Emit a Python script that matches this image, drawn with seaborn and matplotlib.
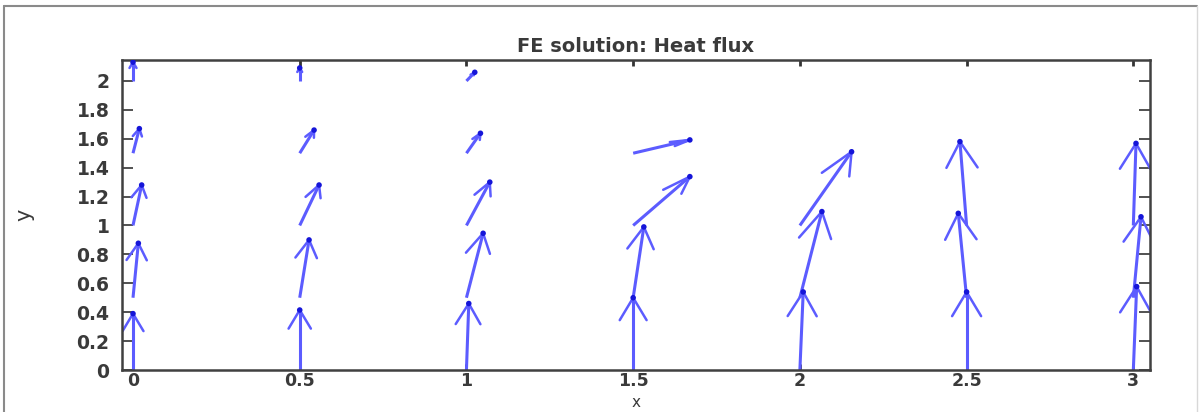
import numpy as np
import pandas as pd
import matplotlib
matplotlib.use("Agg")
import matplotlib.pyplot as plt
import seaborn as sns
from matplotlib.lines import Line2D

# grid points (x columns, y rows) and the drawn flux vectors
x_nodes = [0.0, 0.5, 1.0, 1.5, 2.0, 2.5, 3.0]
y_nodes = [0.0, 0.5, 1.0, 1.5, 2.0]

u_vals = [
    [0.000, 0.016, 0.026, 0.019, 0.000],   # x = 0
    [0.000, 0.028, 0.058, 0.043, 0.000],   # x = 0.5
    [0.007, 0.050, 0.070, 0.042, 0.025],   # x = 1
    [0.000, 0.032, 0.170, 0.170, 0.000],   # x = 1.5
    [0.010, 0.066, 0.155, 0.000, 0.000],   # x = 2
    [0.000, -0.025, -0.020, 0.000, 0.000], # x = 2.5
    [0.010, 0.023, 0.008, 0.000, 0.000],   # x = 3
]
v_vals = [
    [0.390, 0.377, 0.280, 0.170, 0.130],
    [0.415, 0.400, 0.280, 0.160, 0.090],
    [0.460, 0.446, 0.300, 0.138, 0.060],
    [0.500, 0.490, 0.338, 0.092, 0.000],
    [0.540, 0.596, 0.510, 0.000, 0.000],
    [0.540, 0.584, 0.580, 0.000, 0.000],
    [0.577, 0.560, 0.568, 0.000, 0.000],
]

x_ticks = [0, 0.5, 1, 1.5, 2, 2.5, 3]
y_ticks = [0, 0.2, 0.4, 0.6, 0.8, 1, 1.2, 1.4, 1.6, 1.8, 2]

rows = []
for i, xv in enumerate(x_nodes):
    for j, yv in enumerate(y_nodes):
        rows.append({"x": xv, "y": yv, "u": u_vals[i][j], "v": v_vals[i][j]})
df = pd.DataFrame(rows)
df = df[(df.u != 0) | (df.v != 0)].reset_index(drop=True)

sns.set_style("ticks")
plt.rcParams["font.family"] = ["DejaVu Sans"]

fig = plt.figure(figsize=(11.99, 4.12), dpi=100)
ax = fig.add_axes([122 / 1199, 42 / 412, 1028 / 1199, 310 / 412])

shaft = "#5c5cff"
tip = "#1515d8"

# MATLAB style quiver: shaft plus two barbs computed in data units
alpha, beta = 0.31, 0.26
for _, r in df.iterrows():
    x0, y0, u, v = r.x, r.y, r.u, r.v
    xt, yt = x0 + u, y0 + v
    ax.plot([x0, xt], [y0, yt], color=shaft, lw=2.2, solid_capstyle="butt")
    bx = [xt - alpha * (u + beta * v), xt, xt - alpha * (u - beta * v)]
    by = [yt - alpha * (v - beta * u), yt, yt - alpha * (v + beta * u)]
    ax.plot(bx, by, color=shaft, lw=1.8, solid_joinstyle="miter")

df["xt"] = df.x + df.u
df["yt"] = df.y + df.v
sns.scatterplot(data=df, x="xt", y="yt", color=tip, s=16, edgecolor="none",
                ax=ax, zorder=5)

ax.set_xlim(-0.033, 3.05)
ax.set_ylim(0, 2.145)
ax.set_xticks(x_ticks)
ax.set_xticklabels(["0", "0.5", "1", "1.5", "2", "2.5", "3"])
ax.set_yticks(y_ticks)
ax.set_yticklabels(["0", "0.2", "0.4", "0.6", "0.8", "1", "1.2", "1.4",
                    "1.6", "1.8", "2"])

txt = "#3a3a3a"
ax.tick_params(axis="y", direction="in", length=8, width=1.2, left=True,
               right=True, pad=9, labelsize=13.5, labelcolor=txt, color="#333333")
ax.tick_params(axis="x", direction="in", length=4, width=2, top=True,
               bottom=True, pad=1.5, labelsize=12.5, labelcolor=txt, color="#333333")
for lab in ax.get_xticklabels() + ax.get_yticklabels():
    lab.set_fontweight("bold")
for sp in ax.spines.values():
    sp.set_visible(True)
    sp.set_color("#404040")
    sp.set_linewidth(1.8)

ax.set_title("FE solution: Heat flux", fontsize=14, fontweight="bold",
             color=txt, pad=6)
ax.set_xlabel("x", fontsize=11, color=txt)
ax.xaxis.label.set_va("center")
ax.xaxis.set_label_coords(0.5, -0.1042)
ax.set_ylabel("y", fontsize=15, color=txt, labelpad=30)

# outer frame of the original figure
frame = "#8a8a8a"
fig.add_artist(Line2D([4 / 1199, 4 / 1199], [0, 1 - 6 / 412], color=frame, lw=1.5))
fig.add_artist(Line2D([4 / 1199, 1197 / 1199], [1 - 6 / 412, 1 - 6 / 412], color=frame, lw=1.5))
fig.add_artist(Line2D([1197 / 1199, 1197 / 1199], [0, 1 - 6 / 412], color="#d8d8d8", lw=1))

fig.savefig("out.png", dpi=100)
